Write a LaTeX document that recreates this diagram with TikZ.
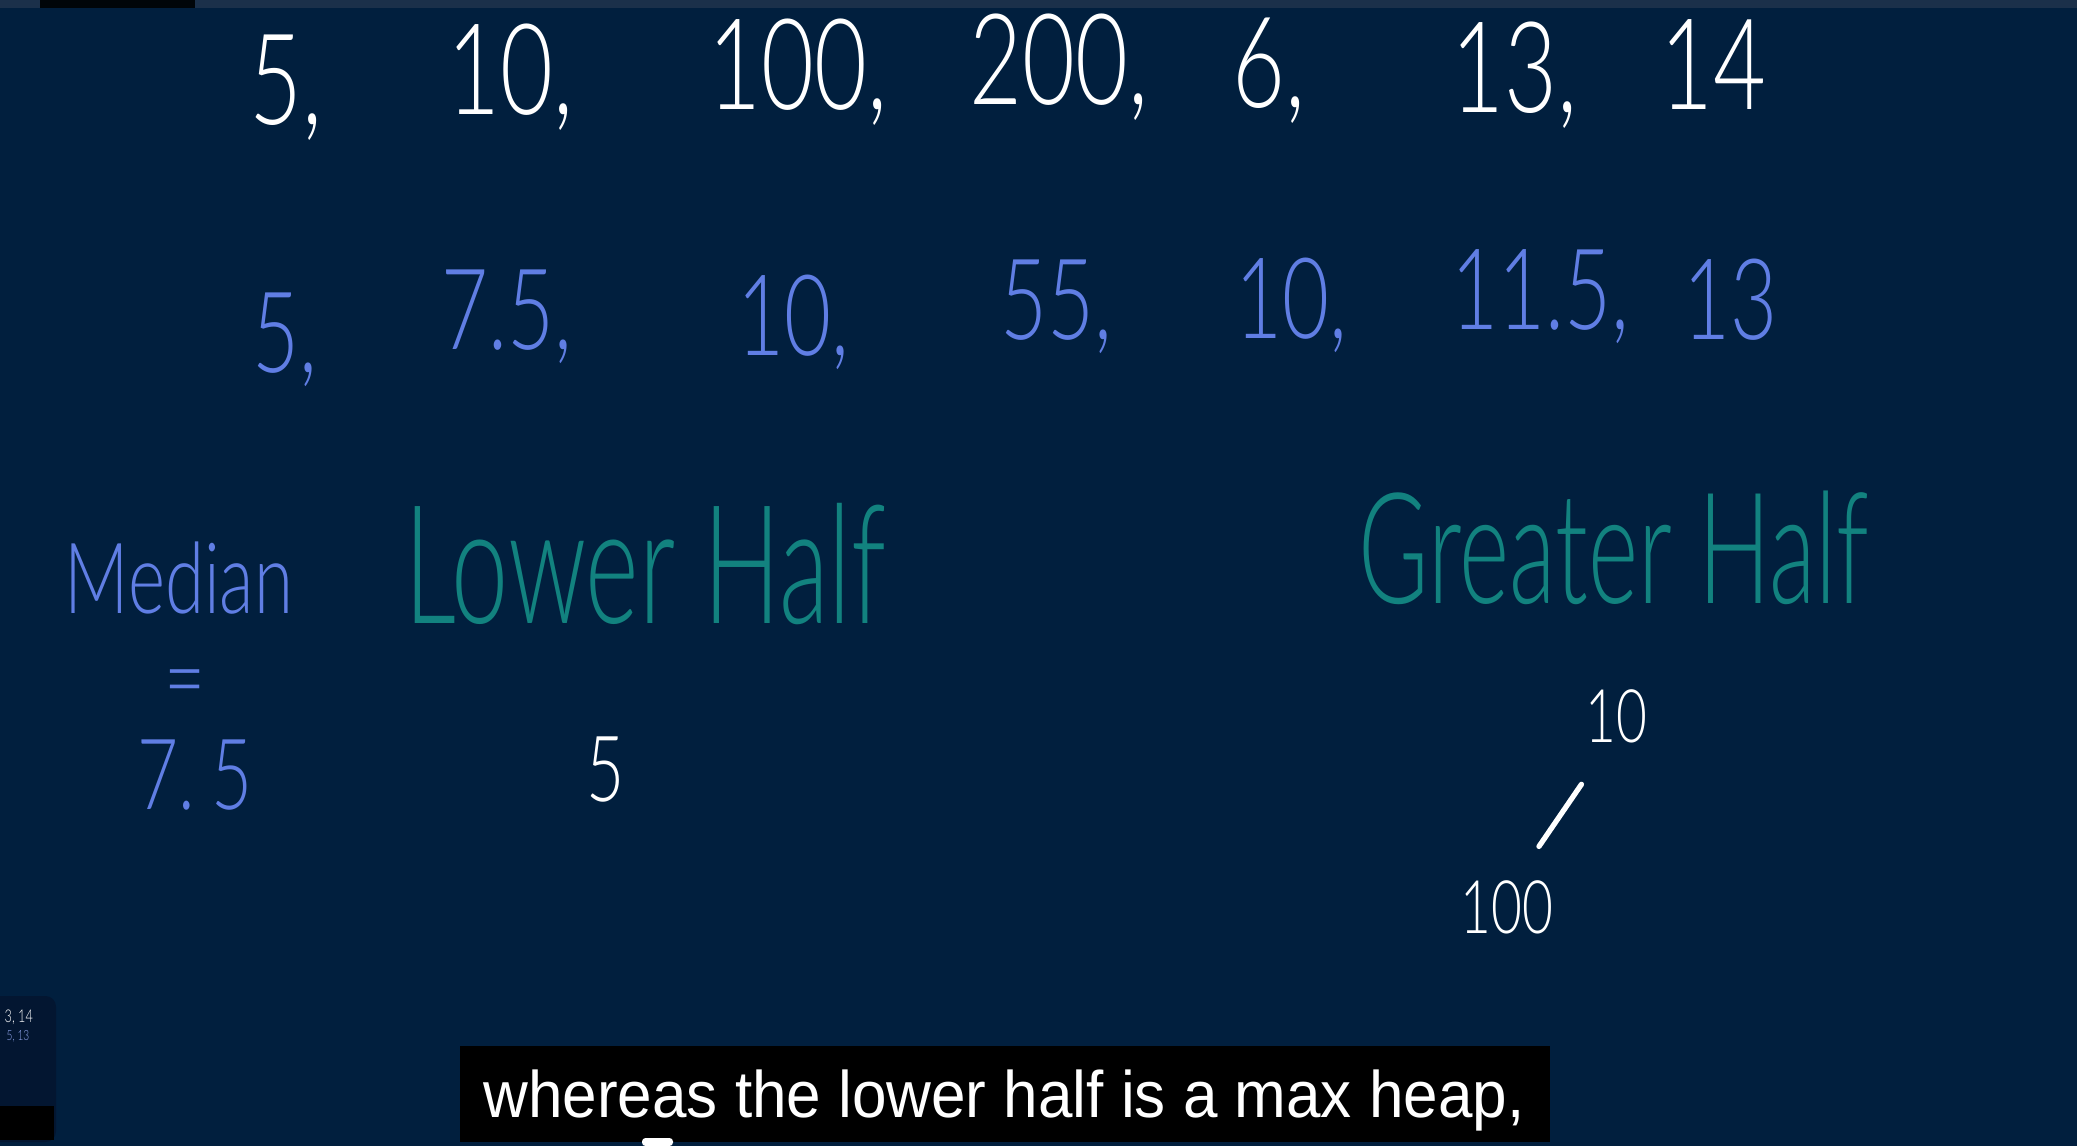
\documentclass[tikz,border=0pt]{standalone}
\usepackage{fontspec}
\newfontfamily\hand{Lato}[UprightFont=* Light, FakeStretch=0.72]
\newfontfamily\handn{Lato}[UprightFont=* Light, FakeStretch=0.62]
\newfontfamily\capfont{Liberation Sans}[FakeStretch=0.943]
\definecolor{bgnavy}{RGB}{1,31,62}
\definecolor{barnavy}{RGB}{27,48,74}
\definecolor{chalkblue}{RGB}{96,126,228}
\definecolor{chalkteal}{RGB}{18,130,127}
\begin{document}
\begin{tikzpicture}[
    x=0.01cm, y=-0.01cm,
    wnum/.style={text=white, inner sep=0pt, anchor=base west, font=\hand\fontsize{36}{36}\selectfont},
    bnum/.style={text=chalkblue, inner sep=0pt, anchor=base west, font=\hand\fontsize{32}{32}\selectfont},
    med/.style={text=chalkblue, inner sep=0pt, anchor=base, font=\hand\fontsize{28}{28}\selectfont},
    half/.style={text=chalkteal, inner sep=0pt, anchor=base west, font=\handn\fontsize{44}{44}\selectfont},
    hp/.style={text=white, inner sep=0pt, anchor=base, font=\hand\fontsize{21}{21}\selectfont},
    subt/.style={text=white, inner sep=0pt, anchor=base, font=\capfont\fontsize{18.7}{19}\selectfont}
]
    \clip (0,0) rectangle (2077,1146);
    \fill[bgnavy] (0,0) rectangle (2077,1146);
    \fill[barnavy] (0,0) rectangle (2077,8);
    \fill[black!85!bgnavy] (40,0) rectangle (195,8);

    % input stream
    \node[wnum] (w1) at (249,125) {5,};
    \node[wnum] (w2) at (447,115) {10,};
    \node[wnum] (w3) at (708,110) {100,};
    \node[wnum] (w4) at (969,105) {200,};
    \node[wnum] (w5) at (1232,108) {6,};
    \node[wnum] (w6) at (1451,113) {13,};
    \node[wnum] (w7) at (1660,110) {14};

    % running medians
    \node[bnum] (b1) at (252,373) {5,};
    \node[bnum] (b2) at (441,350) {7.5,};
    \node[bnum] (b3) at (737,355) {10,};
    \node[bnum] (b4) at (1000,340) {55,};
    \node[bnum] (b5) at (1235,338) {10,};
    \node[bnum] (b6) at (1451,330) {11.5,};
    \node[bnum] (b7) at (1683,340) {13};

    \node[med] (median) at (179,613) {Median};
    \node[med] (eq) at (185,712) {=};
    \node[med] (mval) at (195,809) {7.\,5};

    \node[half, font=\handn\fontsize{47}{47}\selectfont] (lower) at (404,623) {Lower Half};
    \node[half] (greater) at (1358,603) {Greater Half};

    \node[text=white, inner sep=0pt, anchor=base, font=\hand\fontsize{26}{26}\selectfont] (lo5) at (606,801) {5};
    \node[hp] (ten) at (1616,742) {10};
    \node[hp] (hun) at (1507,933) {100};
    \draw[white, line width=1.5pt, line cap=round] ([xshift=-0.03cm, yshift=-0.41cm]ten.south west) -- ([xshift=-0.15cm, yshift=0.33cm]hun.north east);

    % thumbnail and caption
    \fill[rounded corners=3pt, fill={rgb,255:red,3;green,22;blue,49}] (-10,996) rectangle (56,1142);
    \fill[black] (-10,1106) rectangle (54,1140);
    \node[text=white!80, inner sep=0pt, anchor=base west, font=\hand\fontsize{5}{5}\selectfont] (t1) at (4,1022) {3, 14};
    \node[text=chalkblue!70!white, inner sep=0pt, anchor=base west, font=\hand\fontsize{4}{4}\selectfont] (t2) at (6,1040) {5, 13};

    \fill[black] (460,1046) rectangle (1550,1142);
    \node[subt] (caption) at (1004,1117) {whereas the lower half is a max heap,};
    \fill[white, rounded corners=1pt] (642,1138) rectangle (673,1146);
\end{tikzpicture}
\end{document}
